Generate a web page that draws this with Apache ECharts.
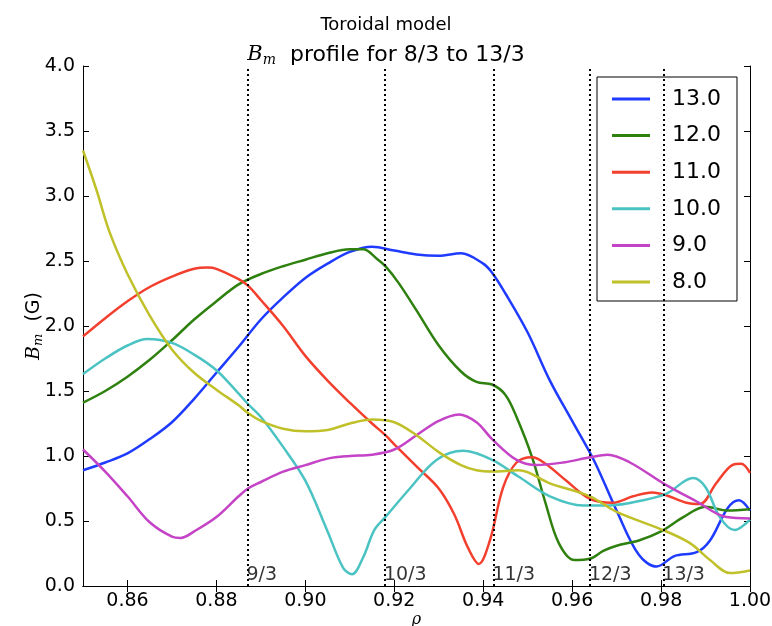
<!DOCTYPE html>
<html>
<head>
<meta charset="utf-8">
<script src="https://cdn.jsdelivr.net/npm/echarts@6/dist/echarts.min.js"></script>
<style>
  html, body { margin: 0; padding: 0; background: #fff; }
  #chart { width: 772px; height: 626px; }
</style>
</head>
<body>
<div id="chart"></div>
<script>
// curves (rho, B_m in G)
const rho13 = [0.850, 0.855, 0.860, 0.865, 0.870, 0.875, 0.880, 0.885, 0.890, 0.895, 0.900, 0.905, 0.910, 0.915, 0.920, 0.925, 0.930, 0.935, 0.940, 0.942, 0.945, 0.950, 0.955, 0.960, 0.965, 0.970, 0.975, 0.979, 0.983, 0.988, 0.991, 0.995, 0.9975, 1.000];
const bm13 = [0.89, 0.95, 1.02, 1.13, 1.26, 1.44, 1.64, 1.84, 2.05, 2.22, 2.37, 2.48, 2.57, 2.61, 2.58, 2.55, 2.54, 2.56, 2.48, 2.41, 2.25, 1.95, 1.58, 1.27, 0.96, 0.58, 0.24, 0.15, 0.23, 0.26, 0.35, 0.60, 0.66, 0.58];

const rho12 = [0.850, 0.855, 0.860, 0.865, 0.870, 0.875, 0.880, 0.885, 0.890, 0.895, 0.900, 0.905, 0.910, 0.913, 0.916, 0.918, 0.921, 0.925, 0.930, 0.935, 0.9385, 0.942, 0.945, 0.9475, 0.951, 0.954, 0.957, 0.9605, 0.964, 0.967, 0.970, 0.975, 0.980, 0.985, 0.990, 0.995, 1.000];
const bm12 = [1.41, 1.50, 1.61, 1.74, 1.89, 2.05, 2.19, 2.32, 2.40, 2.46, 2.51, 2.56, 2.59, 2.59, 2.52, 2.46, 2.33, 2.12, 1.85, 1.65, 1.57, 1.55, 1.47, 1.30, 0.99, 0.64, 0.33, 0.20, 0.21, 0.27, 0.31, 0.35, 0.42, 0.53, 0.61, 0.58, 0.59];

const rho11 = [0.850, 0.855, 0.860, 0.865, 0.870, 0.875, 0.878, 0.880, 0.885, 0.8871, 0.890, 0.895, 0.900, 0.905, 0.910, 0.915, 0.918, 0.920, 0.925, 0.930, 0.9335, 0.9365, 0.939, 0.9415, 0.9445, 0.9475, 0.951, 0.954, 0.9587, 0.964, 0.969, 0.9737, 0.978, 0.981, 0.9857, 0.9887, 0.9924, 0.996, 0.998, 1.000];
const bm11 = [1.92, 2.06, 2.19, 2.30, 2.38, 2.44, 2.45, 2.44, 2.36, 2.31, 2.20, 2.00, 1.77, 1.58, 1.41, 1.25, 1.16, 1.09, 0.92, 0.75, 0.55, 0.30, 0.17, 0.35, 0.76, 0.95, 0.99, 0.94, 0.81, 0.67, 0.64, 0.69, 0.72, 0.70, 0.64, 0.63, 0.79, 0.93, 0.94, 0.87];

const rho10 = [0.850, 0.855, 0.860, 0.8645, 0.870, 0.875, 0.880, 0.885, 0.8871, 0.890, 0.895, 0.900, 0.905, 0.9085, 0.9105, 0.913, 0.9155, 0.918, 0.9235, 0.9295, 0.9355, 0.942, 0.948, 0.955, 0.9625, 0.9685, 0.976, 0.9812, 0.9872, 0.990, 0.9932, 0.9965, 1.000];
const bm10 = [1.63, 1.75, 1.85, 1.90, 1.87, 1.78, 1.66, 1.48, 1.40, 1.30, 1.07, 0.81, 0.42, 0.14, 0.09, 0.22, 0.43, 0.53, 0.75, 0.97, 1.04, 0.97, 0.84, 0.69, 0.62, 0.62, 0.66, 0.71, 0.83, 0.76, 0.53, 0.43, 0.51];

const rho9 = [0.850, 0.855, 0.860, 0.865, 0.870, 0.872, 0.875, 0.880, 0.885, 0.8871, 0.890, 0.895, 0.900, 0.905, 0.910, 0.915, 0.920, 0.925, 0.930, 0.9345, 0.9385, 0.942, 0.9475, 0.952, 0.958, 0.964, 0.968, 0.973, 0.9805, 0.988, 0.9947, 1.000];
const bm9 = [1.05, 0.88, 0.69, 0.49, 0.38, 0.37, 0.42, 0.53, 0.69, 0.75, 0.80, 0.88, 0.93, 0.98, 1.00, 1.01, 1.05, 1.16, 1.27, 1.32, 1.26, 1.13, 0.97, 0.93, 0.95, 0.99, 1.01, 0.95, 0.79, 0.65, 0.53, 0.52];

const rho8 = [0.850, 0.853, 0.856, 0.860, 0.865, 0.870, 0.875, 0.880, 0.885, 0.8871, 0.890, 0.895, 0.900, 0.905, 0.910, 0.915, 0.920, 0.925, 0.930, 0.935, 0.9385, 0.942, 0.948, 0.955, 0.964, 0.970, 0.9805, 0.9865, 0.991, 0.9955, 1.000];
const bm8 = [3.35, 3.05, 2.72, 2.40, 2.08, 1.82, 1.64, 1.51, 1.39, 1.33, 1.27, 1.21, 1.19, 1.20, 1.25, 1.28, 1.26, 1.16, 1.03, 0.93, 0.89, 0.88, 0.89, 0.79, 0.69, 0.57, 0.43, 0.33, 0.20, 0.10, 0.12];

const seriesNames = ['13.0', '12.0', '11.0', '10.0', '9.0', '8.0'];
const seriesRho = [rho13, rho12, rho11, rho10, rho9, rho8];
const seriesBm = [bm13, bm12, bm11, bm10, bm9, bm8];
const colors = ['#1f3bff', '#2e800f', '#f23f2e', '#4cc3c3', '#c443c6', '#c0c02a'];

// rational surfaces
const surfaceRho = [0.8870, 0.9179, 0.9423, 0.9640, 0.9805];
const surfaceLabels = ['9/3', '10/3', '11/3', '12/3', '13/3'];

const xTicks = [0.86, 0.88, 0.90, 0.92, 0.94, 0.96, 0.98, 1.00];

const chart = echarts.init(document.getElementById('chart'));

const font = 'DejaVu Sans';
const mathFont = 'DejaVu Serif';

const lineSeries = seriesNames.map((name, i) => ({
    name: name,
    type: 'line',
    data: seriesRho[i].map((r, j) => [r, seriesBm[i][j]]),
    smooth: 0.35,
    showSymbol: false,
    lineStyle: { width: 2.5, color: colors[i] },
    itemStyle: { color: colors[i] },
    z: 3
}));

lineSeries[0].markLine = {
    silent: true,
    precision: 4,
    symbol: ['none', 'none'],
    label: { show: false },
    lineStyle: { color: '#000', type: [2, 3], width: 2 },
    data: surfaceRho.map(r => ({ xAxis: r })),
    z: 5
};

chart.setOption({
    animation: false,
    backgroundColor: '#fff',
    color: colors,
    title: [
        {
            text: 'Toroidal model',
            left: 'center',
            top: 11,
            textStyle: { fontFamily: font, fontSize: 18, fontWeight: 'normal', color: '#000' }
        },
        {
            text: '{b|B}{m|m}{t|  profile for 8/3 to 13/3}',
            left: 'center',
            top: 38,
            textStyle: {
                fontWeight: 'normal',
                rich: {
                    b: { fontFamily: mathFont, fontStyle: 'italic', fontWeight: 'normal', fontSize: 21, color: '#000', lineHeight: 24 },
                    m: { fontFamily: mathFont, fontStyle: 'italic', fontWeight: 'normal', fontSize: 14, color: '#000', lineHeight: 12, verticalAlign: 'bottom' },
                    t: { fontFamily: font, fontWeight: 'normal', fontSize: 22, color: '#000', lineHeight: 24 }
                }
            }
        }
    ],
    legend: {
        data: seriesNames,
        orient: 'vertical',
        left: 597,
        top: 77,
        icon: 'rect',
        itemWidth: 38,
        itemHeight: 3,
        itemGap: 14.6,
        padding: [11, 16, 8, 15],
        borderColor: '#000',
        borderWidth: 1,
        backgroundColor: '#fff',
        textStyle: { fontFamily: font, fontSize: 22, lineHeight: 22, color: '#000', padding: [0, 0, 0, 17] }
    },
    grid: { left: 83, right: 22, top: 66, bottom: 40, containLabel: false, outerBoundsMode: 'none' },
    xAxis: [
        {
            type: 'value',
            min: 0.85,
            max: 1.0,
            name: 'ρ',
            nameLocation: 'middle',
            nameGap: 26,
            nameMoveOverlap: false,
            nameTextStyle: { fontFamily: mathFont, fontStyle: 'italic', fontSize: 16, color: '#000' },
            axisLine: { show: true, lineStyle: { color: '#000', width: 1 } },
            axisTick: { show: true, inside: true, length: 6, customValues: xTicks, lineStyle: { color: '#000' } },
            axisLabel: {
                customValues: xTicks,
                formatter: v => v.toFixed(2),
                fontFamily: font, fontSize: 19, color: '#000', margin: 6
            },
            splitLine: { show: false }
        },
        {
            type: 'value',
            position: 'top',
            min: 0.85,
            max: 1.0,
            axisLine: { show: true, lineStyle: { color: '#000', width: 1 } },
            axisTick: { show: true, inside: true, length: 6, customValues: xTicks, lineStyle: { color: '#000' } },
            axisLabel: { show: false },
            splitLine: { show: false }
        }
    ],
    yAxis: [
        {
            type: 'value',
            min: 0,
            max: 4,
            interval: 0.5,
            name: '{b|B}{m|m}{t|  (G)}',
            nameLocation: 'middle',
            nameGap: 38,
            nameMoveOverlap: false,
            nameTextStyle: {
                rich: {
                    b: { fontFamily: mathFont, fontStyle: 'italic', fontSize: 19, color: '#000', lineHeight: 22 },
                    m: { fontFamily: mathFont, fontStyle: 'italic', fontSize: 13, color: '#000', lineHeight: 11, verticalAlign: 'bottom' },
                    t: { fontFamily: font, fontSize: 19, color: '#000', lineHeight: 22 }
                }
            },
            axisLine: { show: true, lineStyle: { color: '#000', width: 1 } },
            axisTick: { show: true, inside: true, length: 6, lineStyle: { color: '#000' } },
            axisLabel: { formatter: v => v.toFixed(1), fontFamily: font, fontSize: 19, color: '#000', margin: 8 },
            splitLine: { show: false }
        },
        {
            type: 'value',
            position: 'right',
            min: 0,
            max: 4,
            interval: 0.5,
            axisLine: { show: true, lineStyle: { color: '#000', width: 1 } },
            axisTick: { show: true, inside: true, length: 6, lineStyle: { color: '#000' } },
            axisLabel: { show: false },
            splitLine: { show: false }
        }
    ],
    series: lineSeries.concat([{
        name: 'surfaces',
        type: 'scatter',
        symbolSize: 0,
        silent: true,
        data: surfaceRho.map((r, i) => ({ value: [r, 0], name: surfaceLabels[i] })),
        label: {
            show: true,
            formatter: p => p.name,
            position: [-1, -1],
            align: 'left',
            verticalAlign: 'bottom',
            fontFamily: font,
            fontSize: 19,
            color: '#000'
        },
        z: 6
    }])
});

window.addEventListener('resize', () => chart.resize());
</script>
</body>
</html>
